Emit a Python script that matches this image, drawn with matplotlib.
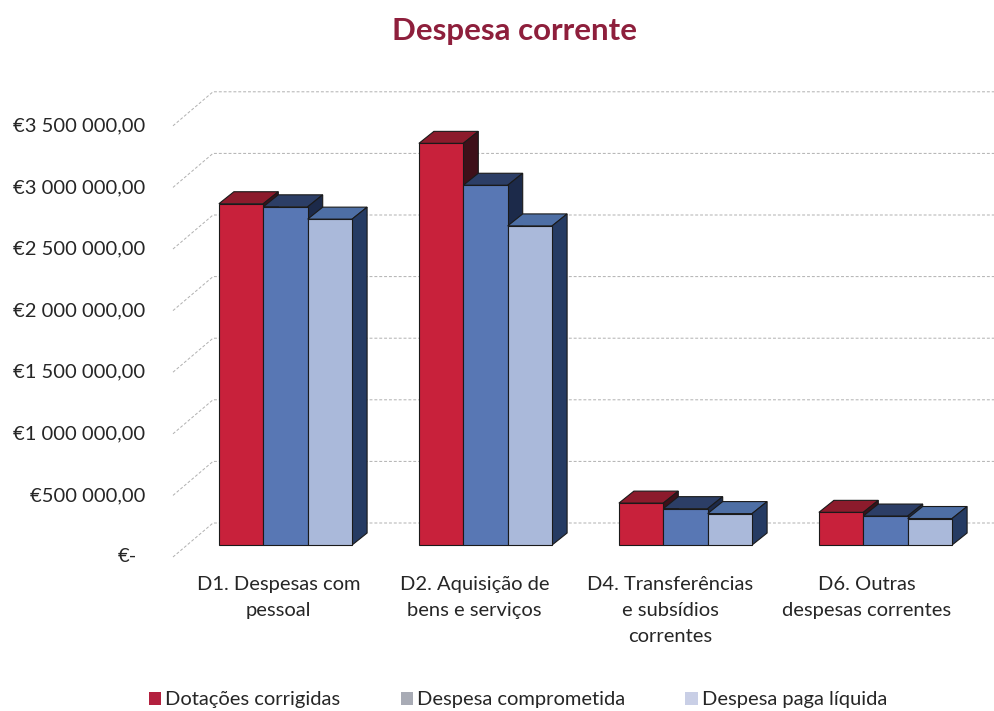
import matplotlib
matplotlib.use("Agg")
from matplotlib import pyplot as plt
from matplotlib.patches import Polygon, Patch

plt.rcParams["font.family"] = ["Lato", "DejaVu Sans"]

categories = [
    "D1. Despesas com\npessoal",
    "D2. Aquisição de\nbens e serviços",
    "D4. Transferências\ne subsídios\ncorrentes",
    "D6. Outras\ndespesas correntes",
]
series = ["Dotações corrigidas", "Despesa comprometida", "Despesa paga líquida"]
dotacoes = [2770000, 3260000, 340000, 265000]
comprometida = [2745000, 2920000, 295000, 235000]
paga = [2645000, 2590000, 255000, 215000]
ticks = [0, 500000, 1000000, 1500000, 2000000, 2500000, 3000000, 3500000]
tick_labels = ["€-", "€500 000,00", "€1 000 000,00", "€1 500 000,00",
               "€2 000 000,00", "€2 500 000,00", "€3 000 000,00", "€3 500 000,00"]

front_colors = ["#c8213b", "#5877b4", "#aab9da"]
top_colors = ["#8c1b2c", "#2c3e66", "#4e6fa5"]
side_colors = ["#3e1019", "#1c2a4a", "#253b63"]

# pixel geometry of the fake 3D scene (figure is 995 x 711 px)
W, H = 995, 711
PX_X = 1 / 200.0          # category units per pixel
PX_Y = 500000 / 61.6      # value units per pixel
BASE_PY = 545             # pixel row of value 0 at the bar plane
C0_PX = 285.5             # pixel column of first category centre

fig = plt.figure(figsize=(W / 100, H / 100), dpi=100)
ax = fig.add_axes([0, 0, 1, 1])
ax.set_xlim(-C0_PX * PX_X, (W - C0_PX) * PX_X)
ax.set_ylim((BASE_PY - H) * PX_Y, BASE_PY * PX_Y)
ax.axis("off")

# walls: perspective lines and back gridlines
front_dy = -12 * PX_Y
back_dy = 22 * PX_Y
x_front = (173 - C0_PX) * PX_X
x_back = (213 - C0_PX) * PX_X
x_end = (W - C0_PX) * PX_X
for t, lab in zip(ticks, tick_labels):
    ax.plot([x_front, x_back, x_end], [t + front_dy, t + back_dy, t + back_dy],
            color="#b0b0b0", lw=0.7, ls=(0, (3, 2)), zorder=1)
    x_lab = (145 if t else 137) - C0_PX
    ax.text(x_lab * PX_X, t + front_dy, lab, ha="right", va="center",
            fontsize=14.5, color="#262626")

# bars
w = 0.222
ddx = 15 * PX_X
ddy = 12 * PX_Y
values = [dotacoes, comprometida, paga]
for j, (vals, name) in enumerate(zip(values, series)):
    lefts = [i - 1.5 * w + j * w for i in range(len(categories))]
    z = 2 + j * 0.1
    ax.bar(lefts, vals, w, align="edge", color=front_colors[j],
           edgecolor="#1a1a1a", linewidth=0.8, zorder=z + 0.05, label=name)
    for l, h in zip(lefts, vals):
        top = [(l, h), (l + w, h), (l + w + ddx, h + ddy), (l + ddx, h + ddy)]
        side = [(l + w, 0), (l + w + ddx, ddy), (l + w + ddx, h + ddy), (l + w, h)]
        ax.add_patch(Polygon(top, closed=True, facecolor=top_colors[j],
                             edgecolor="#1a1a1a", lw=0.8, zorder=z))
        ax.add_patch(Polygon(side, closed=True, facecolor=side_colors[j],
                             edgecolor="#1a1a1a", lw=0.8, zorder=z))

# category labels
for i, cat in enumerate(categories):
    x_lab = i + (-7 - 4 * i) * PX_X
    ax.text(x_lab, (BASE_PY - 576) * PX_Y, cat, ha="center", va="top",
            fontsize=14.5, color="#262626", linespacing=1.65)

fig.text(515 / W, 1 - 31 / H, "Despesa corrente", ha="center", va="center",
         fontsize=22.5, fontweight="bold", color="#8e1f3c")

handles = [Patch(facecolor=c) for c in ["#b3213f", "#a8abb5", "#c9cfe6"]]
fig.legend(handles, series, loc="center", bbox_to_anchor=(518 / W, 1 - 700 / H),
           ncol=3, frameon=False, fontsize=14.5, handlelength=0.6, handleheight=0.6,
           handletextpad=0.2, columnspacing=3.0, labelcolor="#262626")

fig.savefig("out.png", dpi=100)
